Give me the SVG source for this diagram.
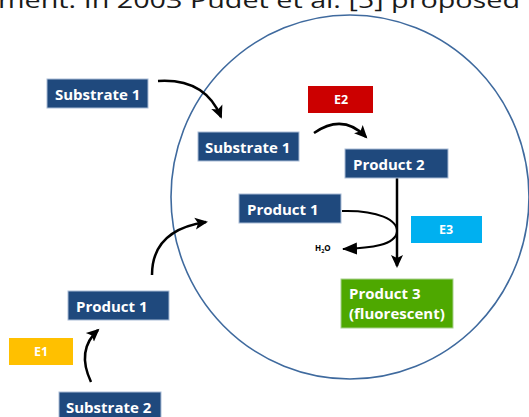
<svg xmlns="http://www.w3.org/2000/svg" width="529" height="417" viewBox="0 0 529 417">
<style>
.box{fill:#1F497D;stroke:#A9BCD6;stroke-width:1}
.lbl{font-family:"Open Sans","Liberation Sans",sans-serif;font-weight:bold;font-size:15px;fill:#fff}
.elbl{font-family:"Open Sans","Liberation Sans",sans-serif;font-weight:bold;font-size:12.5px;fill:#fff;text-anchor:middle}
.arr{fill:none;stroke:#000;stroke-width:2.5;marker-end:url(#ah)}
</style>
<defs>
<marker id="ah" markerUnits="userSpaceOnUse" markerWidth="14" markerHeight="14" viewBox="0 0 14 14" refX="11" refY="7" orient="auto">
<path d="M0,1 L13,7 L0,13 L3,7 Z" fill="#000"/>
</marker>
<marker id="ah2" markerUnits="userSpaceOnUse" markerWidth="16" markerHeight="16" viewBox="0 0 16 16" refX="14" refY="8" orient="auto">
<path d="M0,2 L15,8 L0,14 Z" fill="#000"/>
</marker>
</defs>
<rect width="529" height="417" fill="#fff"/>
<text x="-2" y="8" font-family="'Open Sans','Liberation Sans',sans-serif" font-size="21" fill="#1a1a1a" textLength="522" lengthAdjust="spacingAndGlyphs">ment. In 2003 Pudet et al. [5] proposed</text>
<ellipse id="cell" cx="350" cy="197" rx="179" ry="182" fill="none" stroke="#3F6A9E" stroke-width="1.6"/>
<g id="connectors">
<path class="arr" d="M158,81 Q205,78 221,117"/>
<path class="arr" d="M314,133 Q343,113 366,137"/>
<path class="arr" d="M152,275 Q152,230 206,222"/>
<path class="arr" d="M91,382 Q76,350 98,330"/>
<path class="arr" d="M397,178 L397,266"/>
<path fill="none" stroke="#000" stroke-width="2" marker-end="url(#ah2)" d="M342,211 C378,210 398,220 397,232 C395,245 372,248 343,249"/>
</g>
<g id="substrate1-out"><rect class="box" x="47" y="79" width="101" height="29"/><text class="lbl" x="55" y="100">Substrate 1</text></g>
<g id="substrate1-in"><rect class="box" x="198" y="132" width="101" height="29"/><text class="lbl" x="205" y="153">Substrate 1</text></g>
<g id="e2"><rect x="308" y="86" width="65" height="27" fill="#CC0000"/><text class="elbl" x="341" y="104">E2</text></g>
<g id="product2"><rect class="box" x="345" y="149" width="103" height="29"/><text class="lbl" x="353" y="170">Product 2</text></g>
<g id="product1-in"><rect class="box" x="239" y="194" width="102" height="29"/><text class="lbl" x="247" y="215">Product 1</text></g>
<g id="e3"><rect x="411" y="216" width="71" height="27" fill="#00B0F0"/><text class="elbl" x="446" y="234">E3</text></g>
<g id="h2o"><text x="315" y="251" font-family="'Open Sans','Liberation Sans',sans-serif" font-weight="bold" font-size="8" fill="#000">H<tspan font-size="5.5" dy="2">2</tspan><tspan dy="-2">O</tspan></text></g>
<g id="product3"><rect x="341" y="279" width="112" height="49" fill="#4EA800" stroke="#A8D08D" stroke-width="1"/><text class="lbl" x="349" y="299">Product 3</text><text class="lbl" x="349" y="319">(fluorescent)</text></g>
<g id="product1-out"><rect class="box" x="68" y="291" width="101" height="29"/><text class="lbl" x="76" y="312">Product 1</text></g>
<g id="e1"><rect x="9" y="338" width="64" height="27" fill="#FFC000"/><text class="elbl" x="41" y="356">E1</text></g>
<g id="substrate2"><rect class="box" x="59" y="392" width="102" height="30"/><text class="lbl" x="66" y="413">Substrate 2</text></g>
</svg>
